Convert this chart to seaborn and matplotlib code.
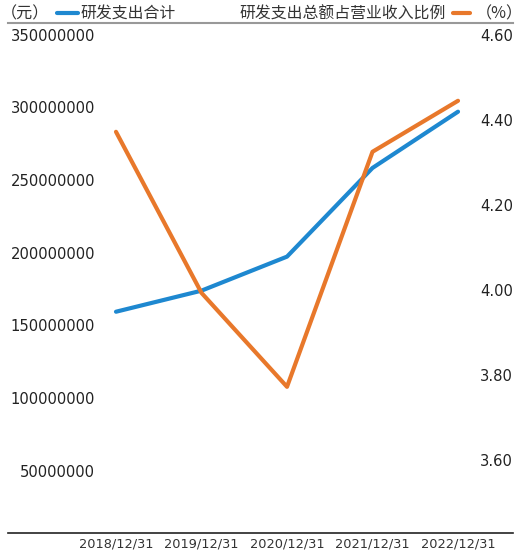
import pandas as pd
import matplotlib
matplotlib.use('Agg')
import matplotlib.pyplot as plt
import seaborn as sns

# données
dates = ['2018/12/31', '2019/12/31', '2020/12/31', '2021/12/31', '2022/12/31']
rd_total = [159400000, 173900000, 197300000, 258300000, 297000000]
rd_ratio = [4.372, 3.993, 3.772, 4.325, 4.445]
left_ticks = [50000000, 100000000, 150000000, 200000000, 250000000, 300000000, 350000000]
right_ticks = [3.60, 3.80, 4.00, 4.20, 4.40, 4.60]

BLUE = '#1e88d0'
ORANGE = '#e8782b'

sns.set_theme(style='white')
plt.rcParams['font.family'] = ['DejaVu Sans', 'Noto Sans CJK SC']
cjk = ['Noto Sans CJK SC', 'DejaVu Sans']

df = pd.DataFrame({'date': dates, 'total': rd_total, 'ratio': rd_ratio})
df['pos'] = range(len(df))

W, H = 525, 558
fig = plt.figure(figsize=(W / 100, H / 100), dpi=100)
ax = fig.add_axes([8 / W, (H - 533) / H, (513 - 8) / W, (533 - 23) / H])
ax2 = ax.twinx()

sns.lineplot(data=df, x='pos', y='total', ax=ax, color=BLUE, linewidth=3,
             label='研发支出合计', legend=False)
sns.lineplot(data=df, x='pos', y='ratio', ax=ax2, color=ORANGE, linewidth=3,
             label='研发支出总额占营业收入比例', legend=False)

ax.set_xlim(-1.263, 4.643)
ax.set_ylim(7200000, 358000000)
ax2.set_ylim(3.428, 4.628)

ax.set_xticks(df['pos'])
ax.set_xticklabels(dates, fontsize=9.3, color='#333333')
ax.set_yticks(left_ticks)
ax.set_yticklabels([str(v) for v in left_ticks], fontsize=10.6, color='#222222')
ax2.set_yticks(right_ticks)
ax2.set_yticklabels([f'{v:.2f}' for v in right_ticks], fontsize=10.6, color='#222222')

ax.tick_params(axis='x', length=0, pad=3.5)
ax.tick_params(axis='y', length=0, pad=-62.6)
ax2.tick_params(axis='y', length=0, pad=0)
for lab in ax2.get_yticklabels():
    lab.set_horizontalalignment('right')

ax.set_xlabel('')
ax.set_ylabel('')
ax2.set_ylabel('')
ax.grid(False)
ax2.grid(False)

for a in (ax, ax2):
    for s in ('left', 'right', 'top', 'bottom'):
        a.spines[s].set_visible(False)
ax.spines['bottom'].set_visible(True)
ax.spines['bottom'].set_color('#222222')
ax.spines['bottom'].set_linewidth(1.2)
ax.spines['top'].set_visible(True)
ax.spines['top'].set_color('#999999')
ax.spines['top'].set_linewidth(1.5)

# en-tête avec les légendes
y_head = 1 - 14 / H
fig.text(1 / W, y_head, '（元）', fontsize=11.6, family=cjk, color='#333333',
         ha='left', va='center')
fig.text(523 / W, y_head, '（%）', fontsize=11.6, family=cjk, color='#333333',
         ha='right', va='center')
h1, l1 = ax.get_legend_handles_labels()
h2, l2 = ax2.get_legend_handles_labels()
leg1 = fig.legend(h1, l1, loc='center left', bbox_to_anchor=(57 / W, y_head),
                  frameon=False, borderpad=0, borderaxespad=0,
                  handlelength=1.33, handletextpad=0.15,
                  prop={'family': cjk, 'size': 11.4})
leg2 = fig.legend(h2, l2, loc='center right', bbox_to_anchor=(470 / W, y_head),
                  frameon=False, borderpad=0, borderaxespad=0, markerfirst=False,
                  handlelength=1.1, handletextpad=0.4,
                  prop={'family': cjk, 'size': 11.4})
for leg in (leg1, leg2):
    for t in leg.get_texts():
        t.set_color('#333333')

fig.savefig('out.png', dpi=100)
